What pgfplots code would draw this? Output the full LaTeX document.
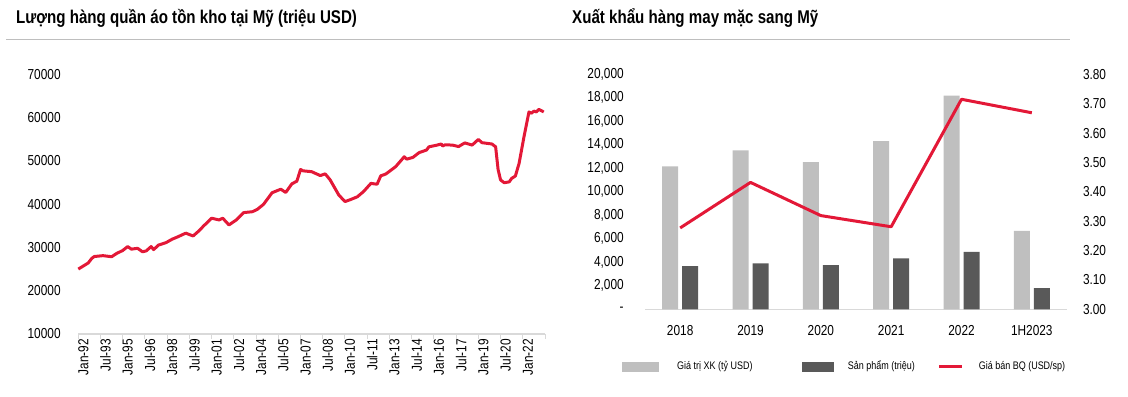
\documentclass[border=0pt]{standalone}
\usepackage{fontspec}
\setmainfont{Liberation Sans}[FakeStretch=0.82]
\usepackage{pgfplots}
\pgfplotsset{compat=1.18}
\definecolor{myred}{RGB}{227,24,55}
\definecolor{lgray}{RGB}{191,191,191}
\definecolor{dgray}{RGB}{89,89,89}
\definecolor{axgray}{RGB}{217,217,217}
\definecolor{tgray}{RGB}{190,190,190}

\pgfplotstableread{
m v
0 25000
4 25700
8 26400
11 27500
13 27900
20 28100
27 27850
31 28600
36 29300
40 30200
43 29600
48 29800
52 29000
55 29200
59 30200
61 29500
65 30550
71 31100
76 31900
81 32500
87 33300
93 32650
97 33650
102 35100
108 36750
114 36350
117 36750
122 35200
128 36350
134 38050
141 38250
145 38800
150 39950
157 42650
164 43450
168 42700
173 44700
177 45300
180 48000
182 47700
189 47500
196 46600
200 47000
204 45600
211 42100
216 40600
220 41000
226 41700
231 42900
237 44800
242 44600
245 46550
249 46950
257 48650
264 50950
266 50400
271 50800
276 51900
282 52500
284 53250
290 53600
294 53900
295 53450
297 53700
303 53650
308 53300
313 54150
319 53650
324 54950
327 54200
335 53900
338 53250
340 48000
342 45600
345 44950
349 45150
351 45950
354 46500
357 49400
361 55600
365 61300
367 61000
369 61500
371 61300
373 61900
375 61600
377 61300
}\inventory

\begin{document}
\begin{tikzpicture}
\path[use as bounding box] (0bp,0bp) rectangle (1128bp,397bp);
\draw[tgray, line width=1bp] (6bp,357.7bp) -- (1070bp,357.7bp);
\node[anchor=base west, inner sep=0, font=\fontsize{18.5}{20}\selectfont\bfseries] at (16bp,373bp) {Lượng hàng quần áo tồn kho tại Mỹ (triệu USD)};
\node[anchor=base west, inner sep=0, font=\fontsize{18.5}{20}\selectfont\bfseries] at (572bp,373bp) {Xuất khẩu hàng may mặc sang Mỹ};

\begin{axis}[
  at={(78.3bp,63bp)}, anchor=south west, scale only axis,
  width=466.7bp, height=259.7bp,
  xmin=0, xmax=378, ymin=10000, ymax=70000,
  axis x line=bottom, axis y line=left,
  axis line style={-},
  y axis line style={draw=none},
  x axis line style={axgray, line width=1.2bp},
  xtick={0,18,...,360},
  extra x ticks={378}, extra x tick labels={},
  xticklabels={Jan-92,Jul-93,Jan-95,Jul-96,Jan-98,Jul-99,Jan-01,Jul-02,Jan-04,Jul-05,Jan-07,Jul-08,Jan-10,Jul-11,Jan-13,Jul-14,Jan-16,Jul-17,Jan-19,Jul-20,Jan-22},
  xtick align=outside,
  x tick style={axgray, line width=1bp},
  major tick length=5bp,
  scaled y ticks=false, scaled x ticks=false,
  ytick={10000,20000,30000,40000,50000,60000,70000},
  yticklabels={10000,20000,30000,40000,50000,60000,70000},
  y tick style={draw=none},
  tick label style={font=\fontsize{14.5}{16}\selectfont},
  x tick label style={rotate=90, anchor=east, inner sep=0pt, yshift=-5bp},
  y tick label style={anchor=east, inner sep=0pt, xshift=-15bp},
  clip=false,
]
\addplot[myred, line width=3bp, line join=round, mark=none] table[x=m, y=v] {\inventory};
\end{axis}

\begin{axis}[
  at={(645bp,87.7bp)}, anchor=south west, scale only axis,
  width=422bp, height=235bp,
  xmin=-0.5, xmax=5.5, ymin=0, ymax=20000,
  axis x line=bottom, axis y line=left,
  axis line style={-},
  y axis line style={draw=none},
  x axis line style={axgray, line width=1.5bp},
  xtick={0,1,2,3,4,5},
  xticklabels={2018,2019,2020,2021,2022,1H2023},
  x tick style={draw=none},
  scaled y ticks=false,
  ytick={0,2000,4000,6000,8000,10000,12000,14000,16000,18000,20000},
  yticklabels={{-\hspace{8bp}},{2,000},{4,000},{6,000},{8,000},{10,000},{12,000},{14,000},{16,000},{18,000},{20,000}},
  y tick style={draw=none},
  tick label style={font=\fontsize{14.5}{16}\selectfont},
  x tick label style={inner sep=0pt, yshift=-14bp},
  y tick label style={anchor=east, inner sep=0pt, xshift=-19bp},
]
\addplot[ybar, bar width=16bp, bar shift=-10bp, fill=lgray, draw=none] coordinates {(0,12170) (1,13520) (2,12530) (3,14310) (4,18190) (5,6670)};
\addplot[ybar, bar width=16bp, bar shift=10bp, fill=dgray, draw=none] coordinates {(0,3680) (1,3900) (2,3760) (3,4330) (4,4890) (5,1810)};
\end{axis}

\begin{axis}[
  at={(645bp,87.7bp)}, anchor=south west, scale only axis,
  width=422bp, height=235bp,
  xmin=-0.5, xmax=5.5, ymin=3.0, ymax=3.8,
  axis x line=none, axis y line=right,
  axis line style={-},
  y axis line style={draw=none},
  ytick={3.0,3.1,3.2,3.3,3.4,3.5,3.6,3.7,3.8},
  yticklabels={3.00,3.10,3.20,3.30,3.40,3.50,3.60,3.70,3.80},
  y tick style={draw=none},
  tick label style={font=\fontsize{14.5}{16}\selectfont},
  y tick label style={anchor=west, inner sep=0pt, xshift=13.7bp},
  legend columns=3,
  legend style={draw=none, fill=none, at={(-0.0552,-0.2426)}, anchor=west, inner sep=0pt, outer sep=0pt,
    font=\fontsize{11}{13}\selectfont,
    nodes={inner sep=0pt},
    /tikz/column 1/.style={column sep=19bp},
    /tikz/column 2/.style={column sep=49bp},
    /tikz/column 3/.style={column sep=15bp},
    /tikz/column 4/.style={column sep=23bp},
    /tikz/column 5/.style={column sep=15bp}},
  legend cell align=left,
]
\addlegendimage{legend image code/.code={\fill[lgray] (0bp,-4.5bp) rectangle (36bp,4.5bp);}}
\addlegendentry{Giá trị XK (tỷ USD)}
\addlegendimage{legend image code/.code={\fill[dgray] (0bp,-4.5bp) rectangle (31bp,4.5bp);}}
\addlegendentry{Sản phẩm (triệu)}
\addplot[myred, line width=3bp, mark=none, line join=round, legend image code/.code={\draw[myred, line width=3bp] (0bp,0bp) -- (23bp,0bp);}] coordinates {(0,3.277) (1,3.432) (2,3.319) (3,3.281) (4,3.715) (5,3.669)};
\addlegendentry{Giá bán BQ (USD/sp)}
\end{axis}
\end{tikzpicture}
\end{document}
